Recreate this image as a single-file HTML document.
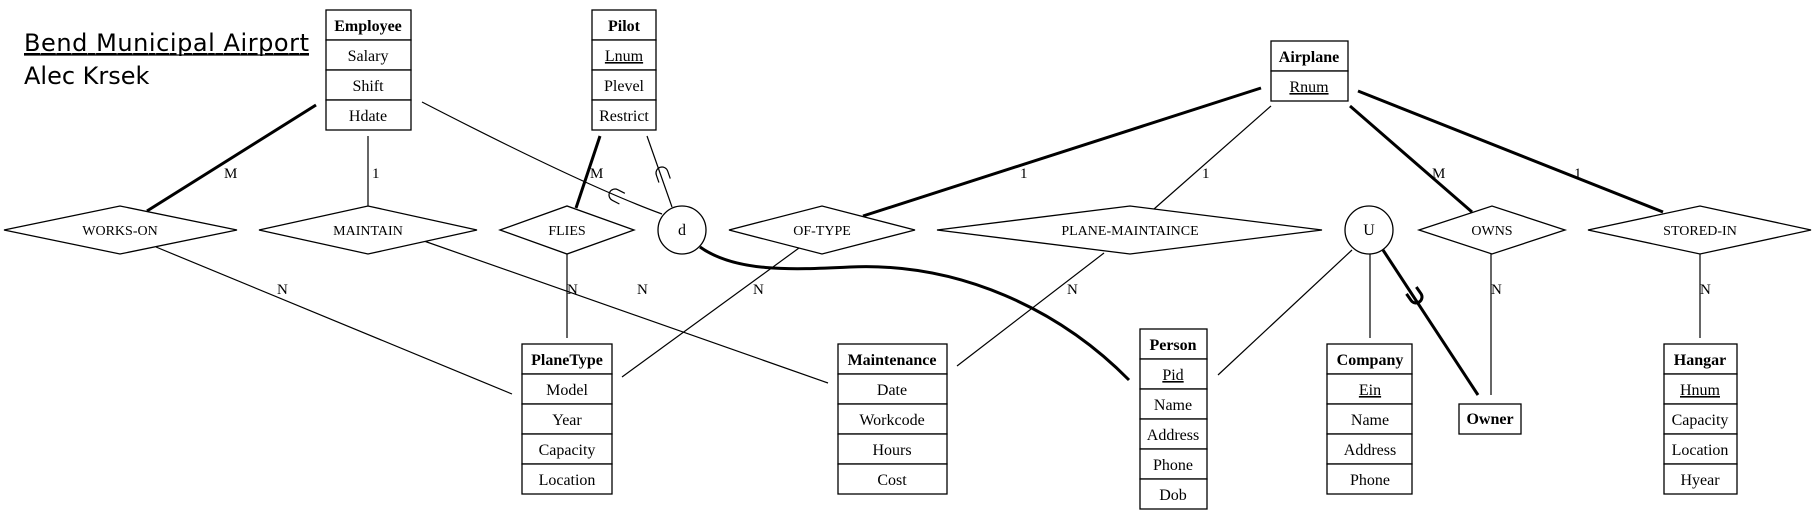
<!DOCTYPE html>
<html><head><meta charset="utf-8"><style>
html,body{margin:0;padding:0;background:#fff;}
svg{display:block;}
.b{font-family:"Liberation Serif",serif;font-size:16px;text-anchor:middle;}
.h{font-weight:bold;}
.r{font-family:"Liberation Serif",serif;font-size:14px;text-anchor:middle;}
.c{font-family:"Liberation Serif",serif;font-size:15px;}
rect{fill:#fff;stroke:#000;stroke-width:1.3;}
.t{stroke:#000;stroke-width:1.2;fill:none;}
.k{stroke:#000;stroke-width:3;fill:none;}
</style></head><body>
<svg width="1818" height="520" viewBox="0 0 1818 520" xmlns="http://www.w3.org/2000/svg">
<text x="24" y="51" font-family="DejaVu Sans, sans-serif" font-size="24" textLength="285" text-decoration="underline">Bend Municipal Airport</text>
<line x1="24" y1="55" x2="309" y2="55" stroke="#000" stroke-width="1.3"/>
<text x="24" y="84" font-family="DejaVu Sans, sans-serif" font-size="24">Alec Krsek</text>

<!-- connectors -->
<line class="k" x1="316" y1="105" x2="147" y2="211"/>
<line class="t" x1="368" y1="136" x2="368" y2="206"/>
<path class="t" d="M422,102 Q585,186 662,214"/>
<line class="k" x1="600" y1="136" x2="576" y2="208"/>
<line class="t" x1="647" y1="136" x2="672" y2="207"/>
<line class="k" x1="1261" y1="88" x2="863" y2="216"/>
<line class="t" x1="1271" y1="106" x2="1154" y2="209"/>
<line class="k" x1="1350" y1="106" x2="1472" y2="212"/>
<line class="k" x1="1358" y1="91" x2="1663" y2="212"/>
<line class="t" x1="156" y1="247" x2="512" y2="394"/>
<line class="t" x1="424" y1="241" x2="828" y2="383"/>
<line class="t" x1="567" y1="253" x2="567" y2="338"/>
<line class="t" x1="799" y1="248" x2="622" y2="377"/>
<line class="t" x1="1104" y1="253" x2="957" y2="366"/>
<path class="k" d="M700,247 C735,272 790,270 850,267 C960,262 1060,310 1129,380"/>
<line class="t" x1="1352" y1="250" x2="1218" y2="375"/>
<line class="t" x1="1370" y1="254" x2="1370" y2="338"/>
<line class="k" x1="1383" y1="250" x2="1478" y2="395"/>
<line class="t" x1="1491" y1="253" x2="1491" y2="395"/>
<line class="t" x1="1700" y1="253" x2="1700" y2="338"/>

<!-- subset symbols -->
<path class="t" stroke-width="2" d="M-6,-8 L-6,0 A6,6 0 0 0 6,0 L6,-8" transform="translate(615,195) rotate(117)"/>
<path class="t" stroke-width="2" d="M-6,-8 L-6,0 A6,6 0 0 0 6,0 L6,-8" transform="translate(662,173) rotate(161)"/>
<path class="k" d="M-6,-8 L-6,0 A6,6 0 0 0 6,0 L6,-8" transform="translate(1416,297) rotate(-35)"/>

<!-- cardinalities -->
<g class="c">
<text x="224" y="178">M</text><text x="372" y="178">1</text><text x="590" y="178">M</text>
<text x="1020" y="178">1</text><text x="1202" y="178">1</text><text x="1432" y="178">M</text><text x="1574" y="178">1</text>
<text x="277" y="294">N</text><text x="567" y="294">N</text><text x="637" y="294">N</text><text x="753" y="294">N</text>
<text x="1067" y="294">N</text><text x="1491" y="294">N</text><text x="1700" y="294">N</text>
</g>

<!-- diamonds -->
<g fill="#fff" stroke="#000" stroke-width="1.3">
<polygon points="4,230 120,206 237,230 120,254"/>
<polygon points="259,230 368,206 477,230 368,254"/>
<polygon points="500,230 567,206 634,230 567,254"/>
<polygon points="729,230 822,206 915,230 822,254"/>
<polygon points="937,230 1130,206 1322,230 1130,254"/>
<polygon points="1419,230 1492,206 1565,230 1492,254"/>
<polygon points="1588,230 1700,206 1811,230 1700,254"/>
<circle cx="682" cy="230" r="24"/>
<circle cx="1369" cy="230" r="24"/>
</g>
<g class="r">
<text x="120" y="235">WORKS-ON</text><text x="368" y="235">MAINTAIN</text><text x="567" y="235">FLIES</text>
<text x="822" y="235">OF-TYPE</text><text x="1130" y="235">PLANE-MAINTAINCE</text><text x="1492" y="235">OWNS</text><text x="1700" y="235">STORED-IN</text>
<text x="682" y="235" font-size="16">d</text><text x="1369" y="235" font-size="16">U</text>
</g>

<!-- entities -->
<g class="b">
<rect x="326" y="10" width="85" height="30"/><rect x="326" y="40" width="85" height="30"/><rect x="326" y="70" width="85" height="30"/><rect x="326" y="100" width="85" height="30"/>
<text x="368" y="31" class="h">Employee</text><text x="368" y="61">Salary</text><text x="368" y="91">Shift</text><text x="368" y="121">Hdate</text>

<rect x="592" y="10" width="64" height="30"/><rect x="592" y="40" width="64" height="30"/><rect x="592" y="70" width="64" height="30"/><rect x="592" y="100" width="64" height="30"/>
<text x="624" y="31" class="h">Pilot</text><text x="624" y="61" text-decoration="underline">Lnum</text><text x="624" y="91">Plevel</text><text x="624" y="121">Restrict</text>

<rect x="1271" y="41" width="77" height="30"/><rect x="1271" y="71" width="77" height="30"/>
<text x="1309" y="62" class="h">Airplane</text><text x="1309" y="92" text-decoration="underline">Rnum</text>

<rect x="522" y="344" width="90" height="30"/><rect x="522" y="374" width="90" height="30"/><rect x="522" y="404" width="90" height="30"/><rect x="522" y="434" width="90" height="30"/><rect x="522" y="464" width="90" height="30"/>
<text x="567" y="365" class="h">PlaneType</text><text x="567" y="395">Model</text><text x="567" y="425">Year</text><text x="567" y="455">Capacity</text><text x="567" y="485">Location</text>

<rect x="838" y="344" width="109" height="30"/><rect x="838" y="374" width="109" height="30"/><rect x="838" y="404" width="109" height="30"/><rect x="838" y="434" width="109" height="30"/><rect x="838" y="464" width="109" height="30"/>
<text x="892" y="365" class="h">Maintenance</text><text x="892" y="395">Date</text><text x="892" y="425">Workcode</text><text x="892" y="455">Hours</text><text x="892" y="485">Cost</text>

<rect x="1140" y="329" width="67" height="30"/><rect x="1140" y="359" width="67" height="30"/><rect x="1140" y="389" width="67" height="30"/><rect x="1140" y="419" width="67" height="30"/><rect x="1140" y="449" width="67" height="30"/><rect x="1140" y="479" width="67" height="30"/>
<text x="1173" y="350" class="h">Person</text><text x="1173" y="380" text-decoration="underline">Pid</text><text x="1173" y="410">Name</text><text x="1173" y="440">Address</text><text x="1173" y="470">Phone</text><text x="1173" y="500">Dob</text>

<rect x="1327" y="344" width="85" height="30"/><rect x="1327" y="374" width="85" height="30"/><rect x="1327" y="404" width="85" height="30"/><rect x="1327" y="434" width="85" height="30"/><rect x="1327" y="464" width="85" height="30"/>
<text x="1370" y="365" class="h">Company</text><text x="1370" y="395" text-decoration="underline">Ein</text><text x="1370" y="425">Name</text><text x="1370" y="455">Address</text><text x="1370" y="485">Phone</text>

<rect x="1459" y="404" width="62" height="30"/>
<text x="1490" y="424" class="h">Owner</text>

<rect x="1664" y="344" width="73" height="30"/><rect x="1664" y="374" width="73" height="30"/><rect x="1664" y="404" width="73" height="30"/><rect x="1664" y="434" width="73" height="30"/><rect x="1664" y="464" width="73" height="30"/>
<text x="1700" y="365" class="h">Hangar</text><text x="1700" y="395" text-decoration="underline">Hnum</text><text x="1700" y="425">Capacity</text><text x="1700" y="455">Location</text><text x="1700" y="485">Hyear</text>
</g>
</svg>
</body></html>
